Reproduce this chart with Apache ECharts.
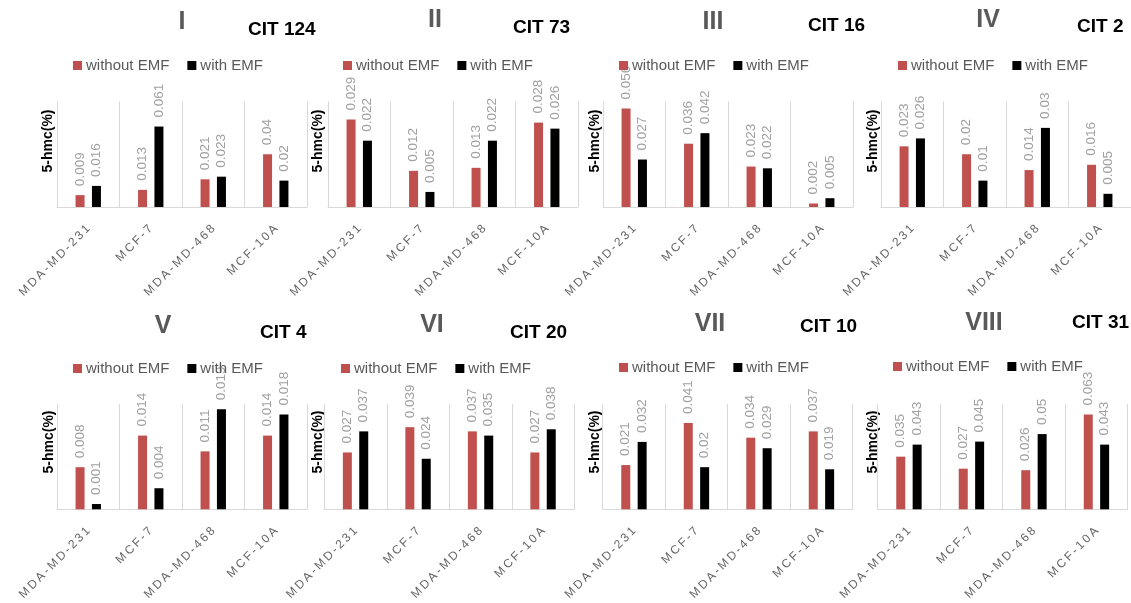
<!DOCTYPE html>
<html>
<head>
<meta charset="utf-8">
<script src="https://cdn.jsdelivr.net/npm/echarts@6/dist/echarts.min.js"></script>
<style>
  html, body { margin: 0; padding: 0; background: #fff; }
  #chart { width: 1131px; height: 603px; }
</style>
</head>
<body>
<div id="chart"></div>
<script>
// Cell lines on the category axis of every panel
const categories = ['MDA-MD-231', 'MCF-7', 'MDA-MD-468', 'MCF-10A'];
const seriesNames = ['without EMF', 'with EMF'];
const panelNumerals = ['I', 'II', 'III', 'IV', 'V', 'VI', 'VII', 'VIII'];
const panelCit = ['CIT 124', 'CIT 73', 'CIT 16', 'CIT 2', 'CIT 4', 'CIT 20', 'CIT 10', 'CIT 31'];
const axisTitle = '5-hmc(%)';

// 5-hmc (%) per panel, one value per cell line
const withoutEMF = [
  [0.009, 0.013, 0.021, 0.04],
  [0.029, 0.012, 0.013, 0.028],
  [0.056, 0.036, 0.023, 0.002],
  [0.023, 0.02, 0.014, 0.016],
  [0.008, 0.014, 0.011, 0.014],
  [0.027, 0.039, 0.037, 0.027],
  [0.021, 0.041, 0.034, 0.037],
  [0.035, 0.027, 0.026, 0.063]
];
const withEMF = [
  [0.016, 0.061, 0.023, 0.02],
  [0.022, 0.005, 0.022, 0.026],
  [0.027, 0.042, 0.022, 0.005],
  [0.026, 0.01, 0.03, 0.005],
  [0.001, 0.004, 0.019, 0.018],
  [0.037, 0.024, 0.035, 0.038],
  [0.032, 0.02, 0.029, 0.019],
  [0.043, 0.045, 0.05, 0.043]
];
// Upper bound of each panel's value axis
const yMax = [0.08, 0.035, 0.06, 0.04, 0.02, 0.05, 0.05, 0.07];

// ---- layout ----
const FONT = "'Liberation Sans', Arial, sans-serif";
const RED = '#C0504D';
const gridLeft = [57, 328, 603, 881, 57, 324.3, 602.7, 877.7];
const rowTop = [101.5, 404];
const rowHeight = [105.5, 105.3];
const numeralPos = [[182, 22], [435, 20], [713, 22], [988, 20], [163, 326], [432, 325], [710, 324], [984, 323]];
const citPos = [[248, 29.5], [513, 28], [808, 25.5], [1077, 27], [260, 333], [510, 333], [800, 327], [1072, 323]];
const legendPos = [[73, 66], [343, 66], [619, 66], [898, 66], [73, 369], [341, 369], [619, 368], [893, 367]];
const yNameX = [48, 318, 595, 873, 49, 318, 595, 873];
const yNameY = [141, 442];

const grids = [], xAxes = [], yAxes = [], series = [], legends = [], graphics = [];

for (let i = 0; i < 8; i++) {
  const row = i < 4 ? 0 : 1;
  grids.push({ left: gridLeft[i], top: rowTop[row], width: 250, height: rowHeight[row] });
  xAxes.push({
    type: 'category', gridIndex: i, data: categories,
    axisLine: { lineStyle: { color: '#d9d9d9', width: 1 } },
    axisTick: { show: false },
    splitLine: { show: true, interval: 0, lineStyle: { color: '#d9d9d9', width: 1 } },
    axisLabel: {
      interval: 0, rotate: 45, margin: 20,
      color: '#666', fontSize: 12, fontFamily: FONT,
      // spaced-out lettering of the cell line names
      formatter: v => v.split('').join('\u2009')
    }
  });
  yAxes.push({ type: 'value', gridIndex: i, min: 0, max: yMax[i], show: false, splitLine: { show: false } });

  const label = {
    show: true, position: 'top', rotate: 90, distance: 9,
    align: 'left', verticalAlign: 'middle',
    color: '#a0a0a0', fontSize: 13.5, fontFamily: FONT
  };
  series.push({
    type: 'bar', name: seriesNames[0], xAxisIndex: i, yAxisIndex: i,
    data: withoutEMF[i], barWidth: 9, barGap: '82%',
    itemStyle: { color: RED }, label
  });
  series.push({
    type: 'bar', name: seriesNames[1], xAxisIndex: i, yAxisIndex: i,
    data: withEMF[i], barWidth: 9, barGap: '82%',
    itemStyle: { color: '#000' }, label
  });

  legends.push({
    data: seriesNames, left: legendPos[i][0], top: legendPos[i][1] - 8,
    padding: 0, icon: 'rect', itemWidth: 9, itemHeight: 9, itemGap: 18,
    selectedMode: false,
    textStyle: { color: '#595959', fontSize: 15, fontFamily: FONT, padding: [0, 0, 0, -1] }
  });

  graphics.push({
    type: 'text', x: numeralPos[i][0], y: numeralPos[i][1],
    style: { text: panelNumerals[i], fill: '#595959', font: 'bold 25px ' + FONT, align: 'center', verticalAlign: 'middle' }
  });
  graphics.push({
    type: 'text', x: citPos[i][0], y: citPos[i][1],
    style: { text: panelCit[i], fill: '#000', font: 'bold 19px ' + FONT, align: 'left', verticalAlign: 'middle' }
  });
  graphics.push({
    type: 'text', x: yNameX[i], y: yNameY[row], rotation: Math.PI / 2,
    style: { text: axisTitle, fill: '#000', font: 'bold 14px ' + FONT, align: 'center', verticalAlign: 'middle' }
  });
}

const chart = echarts.init(document.getElementById('chart'), null, { renderer: 'canvas' });
chart.setOption({
  animation: false,
  backgroundColor: '#fff',
  grid: grids,
  xAxis: xAxes,
  yAxis: yAxes,
  legend: legends,
  series,
  graphic: graphics
});
</script>
</body>
</html>
